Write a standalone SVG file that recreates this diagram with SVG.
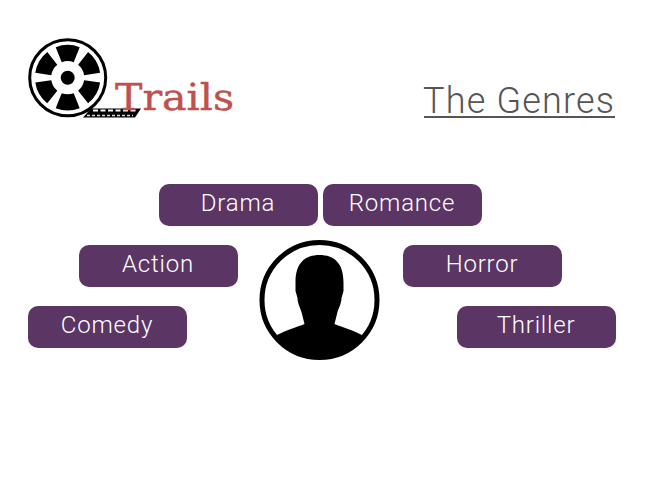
<svg xmlns="http://www.w3.org/2000/svg" width="650" height="500" viewBox="0 0 650 500">
<style>
.pill{fill:#5b3564}
.lbl{font-family:"Roboto","Liberation Sans",sans-serif;font-weight:300;font-size:24px;letter-spacing:0.800px;fill:#fff;text-anchor:middle}
</style>
<defs>
<path id="seg" d="M-12,-30.500 A32.800,32.800 0 0 1 12,-30.500 L6,-15.500 A16.600,16.600 0 0 0 -6,-15.500 Z" fill="#000"/>
<clipPath id="cc"><circle cx="319.500" cy="300" r="57.500"/></clipPath>
</defs>
<rect width="650" height="500" fill="#fff"/>
<g id="logo">
<polygon points="91,108.500 141,108.500 135,117.500 83,117.500" fill="#000"/>
<path d="M93,110.500H137" stroke="#fff" stroke-width="2" stroke-dasharray="5 2.500" fill="none"/>
<path d="M87,115.500H133" stroke="#ddd" stroke-width="1.500" stroke-dasharray="3 2" fill="none"/>
<circle cx="67.700" cy="77.700" r="38" fill="#fff" stroke="#000" stroke-width="3"/>
<g transform="translate(67.700 77.700)">
<use href="#seg"/><use href="#seg" transform="rotate(60)"/><use href="#seg" transform="rotate(120)"/><use href="#seg" transform="rotate(180)"/><use href="#seg" transform="rotate(240)"/><use href="#seg" transform="rotate(300)"/>
<circle r="7" fill="#000"/>
</g>
<text x="115" y="110" font-family="'DejaVu Serif',serif" font-size="37" fill="#c0504d" stroke="#c0504d" stroke-width="0.400" textLength="119" lengthAdjust="spacingAndGlyphs">Trails</text>
</g>
<g id="title">
<text x="423" y="113" font-family="'Roboto','Liberation Sans',sans-serif" font-weight="300" font-size="36" fill="#555" textLength="191" lengthAdjust="spacing">The Genres</text>
<rect x="424" y="116" width="191" height="2" fill="#555"/>
</g>
<g id="person">
<circle cx="319.500" cy="300" r="57.500" fill="#fff" stroke="#000" stroke-width="5"/>
<path clip-path="url(#cc)" fill="#000" d="M295.500,282 C295.500,263 305,255 319.500,255 C334,255 343.500,263 343.500,282 L343.500,291 L341.500,298 C341.500,304 338,309 337,314 L334.500,324 C342,327 352,330 362,335 L362,365 L277,365 L277,335 C287,330 297,327 304.500,324 L302,314 C301,309 297.500,304 297.500,298 L295.500,291 Z"/>
</g>
<g id="drama"><rect class="pill" x="159" y="184" width="159" height="42" rx="10"/><text class="lbl" x="238" y="211">Drama</text></g>
<g id="romance"><rect class="pill" x="323" y="184" width="159" height="42" rx="10"/><text class="lbl" x="402" y="211">Romance</text></g>
<g id="action"><rect class="pill" x="79" y="245" width="159" height="42" rx="10"/><text class="lbl" x="158" y="272">Action</text></g>
<g id="horror"><rect class="pill" x="403" y="245" width="159" height="42" rx="10"/><text class="lbl" x="482" y="272">Horror</text></g>
<g id="comedy"><rect class="pill" x="28" y="306" width="159" height="42" rx="10"/><text class="lbl" x="107" y="333">Comedy</text></g>
<g id="thriller"><rect class="pill" x="457" y="306" width="159" height="42" rx="10"/><text class="lbl" x="536" y="333">Thriller</text></g>
</svg>
